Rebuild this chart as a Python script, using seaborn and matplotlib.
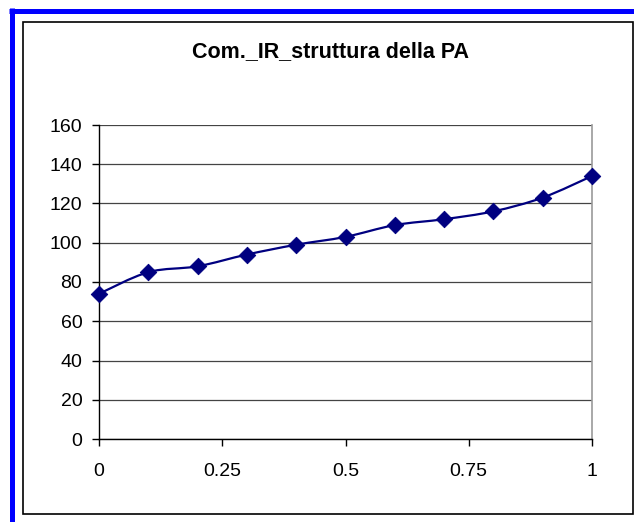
import numpy as np
import pandas as pd
import matplotlib
matplotlib.use("Agg")
import matplotlib.pyplot as plt
import seaborn as sns
from matplotlib.path import Path
from matplotlib.patches import PathPatch, Rectangle
from matplotlib.lines import Line2D

# Data
x_vals = [0, 0.1, 0.2, 0.3, 0.4, 0.5, 0.6, 0.7, 0.8, 0.9, 1.0]
y_vals = [74, 85, 88, 94, 99, 103, 109, 112, 116, 123, 134]
x_ticks = [0, 0.25, 0.5, 0.75, 1]
x_tick_labels = ["0", "0.25", "0.5", "0.75", "1"]
y_ticks = [0, 20, 40, 60, 80, 100, 120, 140, 160]
title = "Com._IR_struttura della PA"

df = pd.DataFrame({"x": x_vals, "y": y_vals})

sns.set_style("white")
plt.rcParams["font.family"] = ["Liberation Sans", "DejaVu Sans"]
plt.rcParams["text.color"] = "black"
plt.rcParams["xtick.color"] = "black"
plt.rcParams["ytick.color"] = "black"

navy = "#000080"

fig = plt.figure(figsize=(6.34, 5.22), dpi=100)
ax = fig.add_axes([99 / 634, 1 - 439 / 522, (592 - 99) / 634, (439 - 125) / 522])

# Excel-style smoothed line (Catmull-Rom as Bezier segments)
px = np.array(x_vals, dtype=float)
py = np.array(y_vals, dtype=float)
verts = [(px[0], py[0])]
codes = [Path.MOVETO]
n = len(px)
for i in range(n - 1):
    p0 = (px[max(i - 1, 0)], py[max(i - 1, 0)])
    p1 = (px[i], py[i])
    p2 = (px[i + 1], py[i + 1])
    p3 = (px[min(i + 2, n - 1)], py[min(i + 2, n - 1)])
    c1 = (p1[0] + (p2[0] - p0[0]) / 6, p1[1] + (p2[1] - p0[1]) / 6)
    c2 = (p2[0] - (p3[0] - p1[0]) / 6, p2[1] - (p3[1] - p1[1]) / 6)
    verts += [c1, c2, p2]
    codes += [Path.CURVE4] * 3
ax.add_patch(PathPatch(Path(verts, codes), facecolor="none", edgecolor=navy,
                       linewidth=1.6, zorder=3))

sns.scatterplot(data=df, x="x", y="y", marker="D", s=70, color=navy,
                edgecolor=navy, ax=ax, zorder=4, clip_on=False)

ax.set_xlim(0, 1)
ax.set_ylim(0, 160)
ax.set_xticks(x_ticks)
ax.set_xticklabels(x_tick_labels)
ax.set_yticks(y_ticks)
ax.set_xlabel("")
ax.set_ylabel("")
ax.yaxis.grid(True, color="#444444", linewidth=0.9)
ax.xaxis.grid(False)
ax.set_axisbelow(True)

for side in ["left", "bottom"]:
    ax.spines[side].set_color("black")
    ax.spines[side].set_linewidth(1.0)
ax.spines["right"].set_color("#999999")
ax.spines["right"].set_linewidth(1.2)
ax.spines["top"].set_visible(False)

ax.tick_params(axis="both", direction="out", length=5, width=1, color="black",
               labelcolor="black", labelsize=14, left=True, bottom=True)
ax.tick_params(axis="x", pad=12)
ax.tick_params(axis="y", pad=7)

fig.text(330 / 634, 1 - 52 / 522, title, ha="center", va="center",
         fontsize=15.5, fontweight="bold", color="black")

# outer frame and blue border
fig.add_artist(Rectangle((23 / 634, 1 - 514 / 522), (633 - 23) / 634, (514 - 22) / 522,
                         transform=fig.transFigure, facecolor="none",
                         edgecolor="black", linewidth=1.2))
fig.add_artist(Line2D([9 / 634, 1], [1 - 10.5 / 522, 1 - 10.5 / 522],
                      transform=fig.transFigure, color="blue", linewidth=3.6,
                      solid_capstyle="butt"))
fig.add_artist(Line2D([11.5 / 634, 11.5 / 634], [0, 1 - 8 / 522],
                      transform=fig.transFigure, color="blue", linewidth=3.6,
                      solid_capstyle="butt"))

fig.savefig("out.png", dpi=100)
